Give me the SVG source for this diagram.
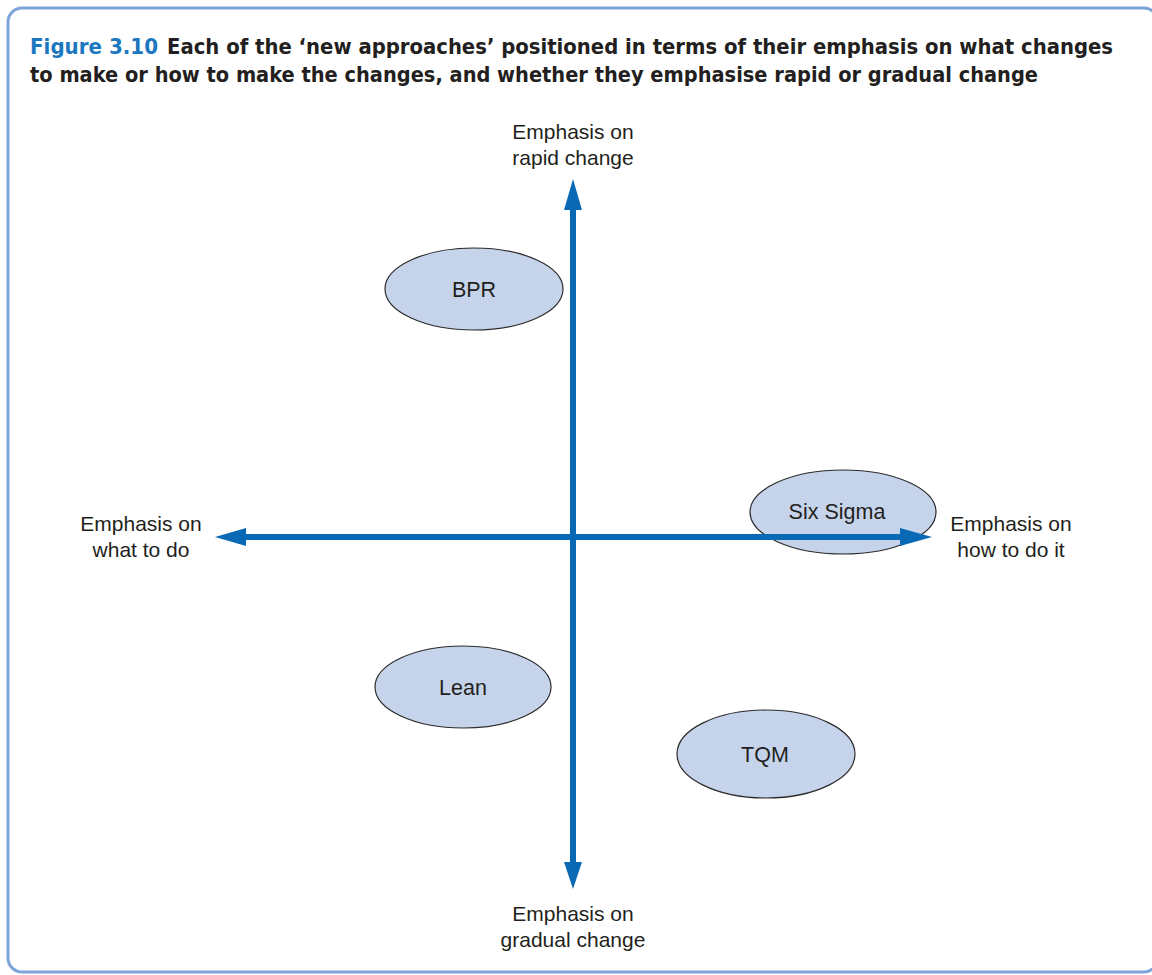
<svg xmlns="http://www.w3.org/2000/svg" width="1152" height="975" viewBox="0 0 1152 975">
<style>
.title{font-family:"DejaVu Sans Condensed","DejaVu Sans",sans-serif;font-weight:bold;font-size:21px;fill:#231f20}
.fig{fill:#1b78c0}
.lbl{font-family:"Liberation Sans",Arial,sans-serif;font-size:21px;fill:#231f20;text-anchor:middle}
.node{fill:#c6d4eb;stroke:#2b2b2b;stroke-width:1.2}
.nt{font-family:"Liberation Sans",Arial,sans-serif;font-size:21.5px;fill:#231f20;text-anchor:middle;dominant-baseline:central}
.axis{stroke:#0a69b4;stroke-width:6;fill:none}
.head{fill:#0a69b4}
</style>
<rect x="8" y="8" width="1150" height="964" rx="14" ry="14" fill="#ffffff" stroke="#7ea4d9" stroke-width="3"/>
<g id="title">
<text class="title fig" x="30" y="54" textLength="128" lengthAdjust="spacingAndGlyphs">Figure 3.10</text>
<text class="title" x="167" y="54" textLength="946" lengthAdjust="spacingAndGlyphs">Each of the ‘new approaches’ positioned in terms of their emphasis on what changes</text>
<text class="title" x="30" y="82" textLength="1008" lengthAdjust="spacingAndGlyphs">to make or how to make the changes, and whether they emphasise rapid or gradual change</text>
</g>
<g id="label-top"><text class="lbl" x="573" y="139">Emphasis on</text><text class="lbl" x="573" y="165">rapid change</text></g>
<g id="label-left"><text class="lbl" x="141" y="531">Emphasis on</text><text class="lbl" x="141" y="557">what to do</text></g>
<g id="label-right"><text class="lbl" x="1011" y="531">Emphasis on</text><text class="lbl" x="1011" y="557">how to do it</text></g>
<g id="label-bottom"><text class="lbl" x="573" y="921">Emphasis on</text><text class="lbl" x="573" y="947">gradual change</text></g>
<g id="bpr"><ellipse class="node" cx="474" cy="289" rx="89" ry="41"/><text class="nt" x="474" y="290">BPR</text></g>
<g id="sixsigma"><ellipse class="node" cx="843" cy="512" rx="93" ry="42"/><text class="nt" x="837" y="512">Six Sigma</text></g>
<g id="lean"><ellipse class="node" cx="463" cy="687" rx="88" ry="41"/><text class="nt" x="463" y="688">Lean</text></g>
<g id="tqm"><ellipse class="node" cx="766" cy="754" rx="89" ry="44"/><text class="nt" x="765" y="755">TQM</text></g>
<g id="connectors">
<line class="axis" x1="573" y1="205" x2="573" y2="866"/>
<polygon class="head" points="573,179 582,210 564,210"/>
<polygon class="head" points="573,889 582,862 564,862"/>
<line class="axis" x1="242" y1="537" x2="904" y2="537"/>
<polygon class="head" points="215,537 246,528 246,546"/>
<polygon class="head" points="932,537 900,528 900,546"/>
</g>
</svg>
